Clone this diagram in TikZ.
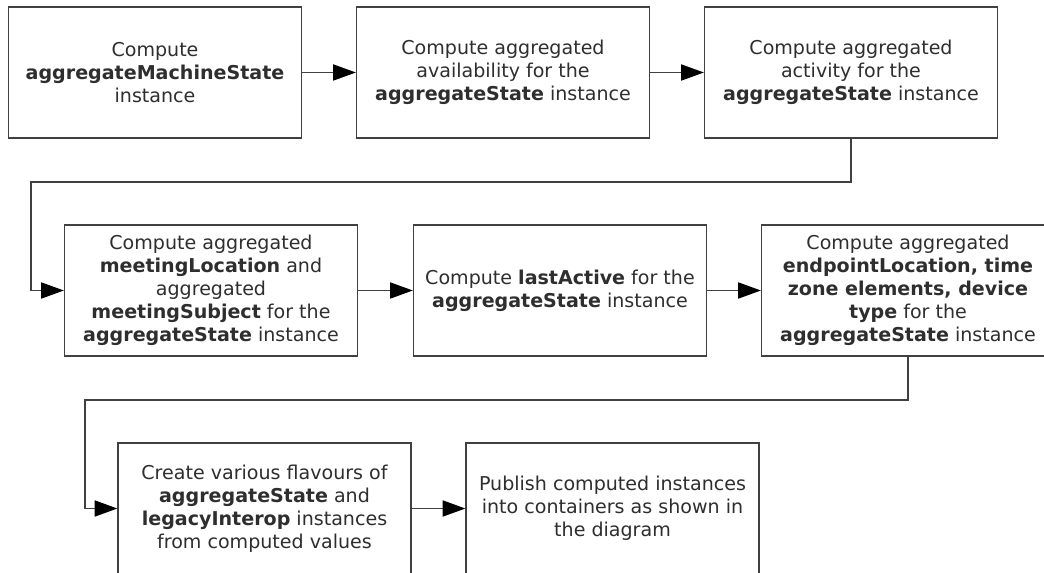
\documentclass[tikz,border=0pt]{standalone}
\usepackage{fontspec}
\setmainfont{DejaVu Sans}
\usetikzlibrary{arrows.meta}
\definecolor{linec}{HTML}{404040}
\definecolor{textc}{HTML}{2E2E2E}
\tikzset{
  stepbox/.style={draw=linec, line width=1.2pt, fill=white, rectangle,
    minimum width=219.5pt, minimum height=98.25pt, inner sep=0pt,
    align=center, text=textc, font=\fontsize{14.3pt}{17.3pt}\selectfont},
  flow/.style={draw=linec, line width=1.2pt,
    -{Triangle[length=17pt,width=12pt,color=black]}}
}
\begin{document}
\begin{tikzpicture}[x=0.75pt,y=-0.75pt]
\useasboundingbox (0,0) rectangle (1044,573);
\clip (0,0) rectangle (1044,573);
\fill[white] (0,0) rectangle (1044,573);
% row 1
\node[stepbox] (b1) at (155,72.5) {Compute\\\textbf{aggregateMachineState}\\instance};
\node[stepbox] (b2) at (503,72.5) {Compute aggregated\\availability for the\\\textbf{aggregateState} instance};
\node[stepbox] (b3) at (851,72.5) {Compute aggregated\\activity for the\\\textbf{aggregateState} instance};
% row 2
\node[stepbox] (b4) at (211,290.5) {Compute aggregated\\\textbf{meetingLocation} and\\aggregated\\\textbf{meetingSubject} for the\\\textbf{aggregateState} instance};
\node[stepbox] (b5) at (560,290.5) {Compute \textbf{lastActive} for the\\\textbf{aggregateState} instance};
\node[stepbox] (b6) at (908,290.5) {Compute aggregated\\\textbf{endpointLocation, time}\\\textbf{zone elements, device}\\\textbf{type} for the\\\textbf{aggregateState} instance};
% row 3
\node[stepbox] (b7) at (264.5,508.5) {Create various flavours of\\\textbf{aggregateState} and\\\textbf{legacyInterop} instances\\from computed values};
\node[stepbox] (b8) at (612.5,508.5) {Publish computed instances\\into containers as shown in\\the diagram};
% turn points
\coordinate (k1) at (31,182);
\coordinate (k2) at (85,400);
% connectors
\draw[flow] (b1) -- (b2);
\draw[flow] (b2) -- (b3);
\draw[flow] (b3.south) -- (b3.south |- k1) -- (k1) |- (b4.west);
\draw[flow] (b4) -- (b5);
\draw[flow] (b5) -- (b6);
\draw[flow] (b6.south) -- (b6.south |- k2) -- (k2) |- (b7.west);
\draw[flow] (b7) -- (b8);
\end{tikzpicture}
\end{document}
